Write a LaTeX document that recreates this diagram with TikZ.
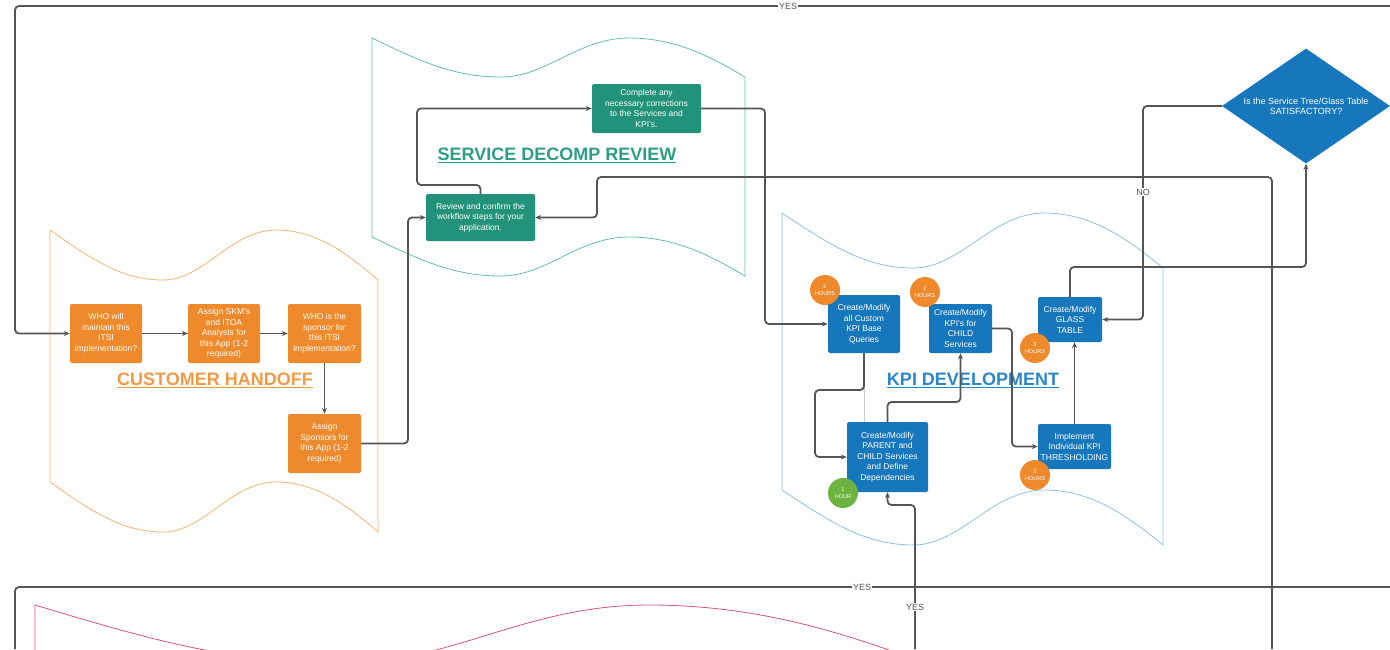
\documentclass[tikz,border=0pt]{standalone}
\usepackage{fontspec}
\setmainfont{Liberation Sans}
\usetikzlibrary{arrows.meta,shapes.geometric,calc}
\definecolor{linegray}{HTML}{555555}
\definecolor{onode}{HTML}{EE8A2B}
\definecolor{gnode}{HTML}{22937A}
\definecolor{bnode}{HTML}{1677BD}
\definecolor{gbadge}{HTML}{6DB33F}
\definecolor{olabel}{HTML}{F09A45}
\definecolor{tlabel}{HTML}{2E9E86}
\definecolor{blabel}{HTML}{2B87C8}
\definecolor{oline}{HTML}{F5B36E}
\definecolor{tline}{HTML}{62BDAE}
\definecolor{bline}{HTML}{8CC0E3}
\definecolor{rline}{HTML}{D8566E}
\newcommand\tapeshape[6]{%
 \draw[#6, line width=0.8pt] (#1,#2) .. controls ({#1+0.13*#3},{#2+0.6*#5}) and ({#1+0.22*#3},{#2+#5}) .. ({#1+0.345*#3},{#2+#5}) .. controls ({#1+0.47*#3},{#2+#5}) and ({#1+0.55*#3},#2) .. ({#1+0.69*#3},#2) .. controls ({#1+0.82*#3},#2) and ({#1+0.92*#3},{#2+0.55*#5}) .. ({#1+#3},{#2+#5}) -- ({#1+#3},{#2+#5+#4}) .. controls ({#1+0.92*#3},{#2+#4+0.55*#5}) and ({#1+0.82*#3},{#2+#4}) .. ({#1+0.69*#3},{#2+#4}) .. controls ({#1+0.55*#3},{#2+#4}) and ({#1+0.47*#3},{#2+#4+#5}) .. ({#1+0.345*#3},{#2+#4+#5}) .. controls ({#1+0.22*#3},{#2+#4+#5}) and ({#1+0.13*#3},{#2+#4+0.6*#5}) .. (#1,{#2+#4}) -- cycle;}
\tikzset{
 box/.style={rounded corners=2pt, text=white, align=center, inner sep=1pt, font=\fontsize{8.5}{10.5}\selectfont},
 obox/.style={box, fill=onode},
 gbox/.style={box, fill=gnode},
 bbox/.style={box, fill=bnode},
 badge/.style={circle, inner sep=0pt, minimum size=30pt, text=white, align=center, font=\fontsize{5.5}{6.5}\selectfont},
 conn/.style={draw=linegray, line width=1.8pt, rounded corners=4pt, -{Stealth[length=6pt,width=5pt]}},
 plain/.style={draw=linegray, line width=1.8pt, rounded corners=4pt},
 faint/.style={draw=linegray!30, line width=1pt},
 lbl/.style={fill=white, inner sep=1pt, text=linegray, font=\fontsize{9}{10}\selectfont},
 title/.style={font=\fontsize{18}{20}\selectfont\bfseries}
}
\begin{document}
\begin{tikzpicture}[x=1pt,y=-1pt]
\useasboundingbox (0,0) rectangle (1390,649);
\clip (0,0) rectangle (1390,649);
% region outlines
\tapeshape{50}{230}{328}{252}{50}{oline}
\tapeshape{372}{38}{373}{199}{39}{tline}
\tapeshape{782}{213}{381}{277}{55}{bline}
\tapeshape{35}{605}{890}{200}{58}{rline}
% titles
\node[title, text=olabel] (tch) at (215,380) {\underline{CUSTOMER HANDOFF}};
\node[title, text=tlabel] (tsd) at (557,155) {\underline{SERVICE DECOMP REVIEW}};
\node[title, text=blabel] (tkpi) at (973,380) {\underline{KPI DEVELOPMENT}};
% customer handoff nodes
\node[obox, minimum width=72pt, minimum height=59pt] (who1) at (106,333.5) {WHO will\\maintain this\\ITSI\\implementation?};
\node[obox, minimum width=72pt, minimum height=59pt] (skm) at (224,333.5) {Assign SKM's\\and ITOA\\Analysts for\\this App (1-2\\required)};
\node[obox, minimum width=73pt, minimum height=59pt] (who2) at (324.5,333.5) {WHO is the\\sponsor for\\this ITSI\\implementation?};
\node[obox, minimum width=73pt, minimum height=59pt] (spons) at (324.5,443.5) {Assign\\Sponsors for\\this App (1-2\\required)};
% service decomp nodes
\node[gbox, minimum width=109pt, minimum height=47pt] (review) at (480.5,217.5) {Review and confirm the\\workflow steps for your\\application.};
\node[gbox, minimum width=109pt, minimum height=49pt] (complete) at (646.5,108.5) {Complete any\\necessary corrections\\to the Services and\\KPI's.};
% kpi nodes
\node[bbox, minimum width=72pt, minimum height=58pt] (kpibase) at (864,324) {Create/Modify\\all Custom\\KPI Base\\Queries};
\node[bbox, minimum width=63pt, minimum height=49pt] (kpichild) at (960.5,328.5) {Create/Modify\\KPI's for\\CHILD\\Services};
\node[bbox, minimum width=64pt, minimum height=45pt] (glass) at (1070,319.5) {Create/Modify\\GLASS\\TABLE};
\node[bbox, minimum width=81pt, minimum height=70pt] (parent) at (887.5,457) {Create/Modify\\PARENT and\\CHILD Services\\and Define\\Dependencies};
\node[bbox, minimum width=73pt, minimum height=45pt] (thresh) at (1074.5,446.5) {Implement\\Individual KPI\\THRESHOLDING};
% decision
\node[diamond, fill=bnode, minimum width=168pt, minimum height=115pt, inner sep=0pt] (dia) at (1306,106) {};
\node[text=white, align=center, font=\fontsize{9}{10}\selectfont] (diat) at (dia.center) {Is the Service Tree/Glass Table\\SATISFACTORY?};
% free ends
\coordinate (topR) at (1390,6);
\coordinate (botR) at (1390,587);
\coordinate (botL) at (15,649);
\coordinate (b915) at (915,649);
\coordinate (b1272) at (1272,649);
% connectors
\draw[conn] (topR) -- (15,6) |- (who1.west);
\draw[conn] (who1.east) -- (skm.west);
\draw[conn] (skm.east) -- (who2.west);
\draw[conn] (who2.south) -- (spons.north);
\draw[conn] (spons.east) -- (408,443.5) |- (review.west);
\draw[conn] (review.north) |- (417,185) |- (complete.west);
\draw[conn] (complete.east) -| (765,324) -- (kpibase.west);
\draw[conn] (b1272) |- (597,177) |- (review.east);
\draw[faint] (kpibase.south) -- (kpibase.south |- parent.north);
\draw[conn] (kpibase.south) |- (815,390) |- (parent.west);
\draw[conn] (parent.north) |- (960.5,402) -- (kpichild.south);
\draw[conn] (kpichild.east) -| (1012,446.5) -- (thresh.west);
\draw[conn] (thresh.north) -- (thresh.north |- glass.south);
\draw[conn] (glass.north) |- (1306,267) -- (dia.south);
\draw[conn] (dia.west) -| (1143,319.5) -- (glass.east);
\draw[plain] (botR) -- (15,587) -- (botL);
\draw[conn] (b915) |- (887.5,505) -- (parent.south);
% connector labels
\node[lbl] (yes1) at (788,6) {YES};
\node[lbl] (no1) at (1143,192) {NO};
\node[lbl] (yes2) at (862,587) {YES};
\node[lbl] (yes3) at (915,607) {YES};
% badges
\node[badge, fill=onode] (bd1) at (825,290) {2\\HOURS};
\node[badge, fill=onode] (bd2) at (925,292) {2\\HOURS};
\node[badge, fill=onode] (bd3) at (1035,348) {3\\HOURS};
\node[badge, fill=onode] (bd4) at (1035,475) {3\\HOURS};
\node[badge, fill=gbadge] (bd5) at (843,493) {1\\HOUR};
\end{tikzpicture}
\end{document}
